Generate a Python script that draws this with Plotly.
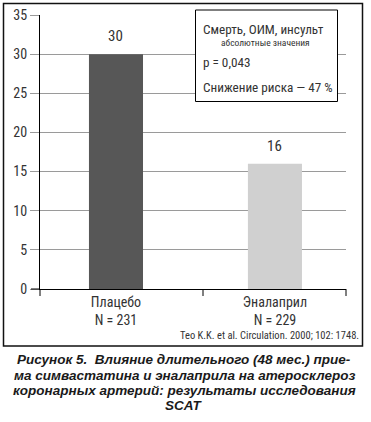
import plotly.graph_objects as go

categories = ["Плацебо<br>N = 231", "Эналаприл<br>N = 229"]
values = [30, 16]
bar_colors = ["#575757", "#d0d0d0"]
y_ticks = [0, 5, 10, 15, 20, 25, 30, 35]

W, H = 371, 422
L, R, T, B = 40, 25, 15, 133
pw, ph = W - L - R, H - T - B

def px(x):
    return (x - L) / pw

def py(y):
    return (H - B - y) / ph

NARROW = "Roboto Condensed, Liberation Sans, Arial, sans-serif"
FONT = "Liberation Sans, Arial, sans-serif"
TXT = "#333333"

fig = go.Figure(go.Bar(
    x=categories, y=values, marker_color=bar_colors, marker_line_width=0,
    width=0.34, hoverinfo="skip",
))

fig.update_layout(
    width=W, height=H, margin=dict(l=L, r=R, t=T, b=B),
    paper_bgcolor="white", plot_bgcolor="white", showlegend=False,
    font=dict(family=NARROW, color=TXT),
)
fig.update_yaxes(
    range=[0, 35], tickvals=y_ticks, showgrid=True, gridcolor="#9a9a9a", gridwidth=1,
    showline=True, linecolor="black", linewidth=1, ticks="outside", ticklen=9,
    tickcolor="#9a9a9a", tickfont=dict(size=14, color=TXT, family=NARROW), zeroline=False,
    automargin=False,
)
fig.update_xaxes(
    range=[-0.478, 1.447], showline=True, linecolor="black", linewidth=1, ticks="",
    showgrid=False, tickfont=dict(size=14, color=TXT, family=NARROW), automargin=False,
)

shapes = [
    # outer frame
    dict(type="rect", xref="paper", yref="paper", x0=px(3.5), x1=px(362.5), y0=py(346), y1=py(3.5),
         line=dict(color="#111111", width=1.5), fillcolor="rgba(0,0,0,0)"),
    # x axis extension to left
    dict(type="line", xref="paper", yref="paper", x0=px(31), x1=px(40), y0=0, y1=0,
         line=dict(color="black", width=1)),
    # legend box
    dict(type="rect", xref="paper", yref="paper", x0=px(195.5), x1=px(337.5), y0=py(101.5), y1=py(10),
         line=dict(color="black", width=1), fillcolor="white", layer="above"),
]
for tx in (40, 203, 346):
    shapes.append(dict(type="line", xref="paper", yref="paper", x0=px(tx), x1=px(tx),
                       y0=0, y1=py(296), line=dict(color="black", width=1)))
fig.update_layout(shapes=shapes)

ann = []
# value labels above bars
for c, v in zip(categories, values):
    ann.append(dict(x=c, y=v, xref="x", yref="y", text=str(v), showarrow=False,
                    yanchor="bottom", yshift=7, font=dict(size=15, color=TXT, family=NARROW)))

def text(x, y, s, size, xanchor="left", family=NARROW):
    ann.append(dict(xref="paper", yref="paper", x=px(x), y=py(y), text=s, showarrow=False,
                    xanchor=xanchor, yanchor="middle", xshift=0,
                    font=dict(size=size, color=TXT, family=family)))

text(201, 29, "Смерть, ОИМ, инсульт", 13.2)
text(265, 42, "абсолютные значения", 9.5, xanchor="center")
text(201, 62.5, "p = 0,043", 13.2)
text(201, 88, "Снижение риска — 47 %", 13.2)
text(361, 335, "Teo K.K. et al. Circulation. 2000; 102: 1748.", 10.5, xanchor="right")

caption = ["Рисунок 5.&nbsp; Влияние длительного (48 мес.) прие-",
           "ма симвастатина и эналаприла на атеросклероз",
           "коронарных артерий: результаты исследования",
           "SCAT"]
cap_y = [359, 375, 390, 405]
for line, yy in zip(caption, cap_y):
    ann.append(dict(xref="paper", yref="paper", x=px(184), y=py(yy),
                    text="<b><i>" + line + "</i></b>", showarrow=False, xanchor="center",
                    yanchor="middle", font=dict(size=13.5, color="#1a1a1a", family=FONT)))
fig.update_layout(annotations=ann)

fig.write_html("out.html", config={"displayModeBar": False},
               post_script="document.body.style.margin='0';document.body.style.overflow='hidden';")
